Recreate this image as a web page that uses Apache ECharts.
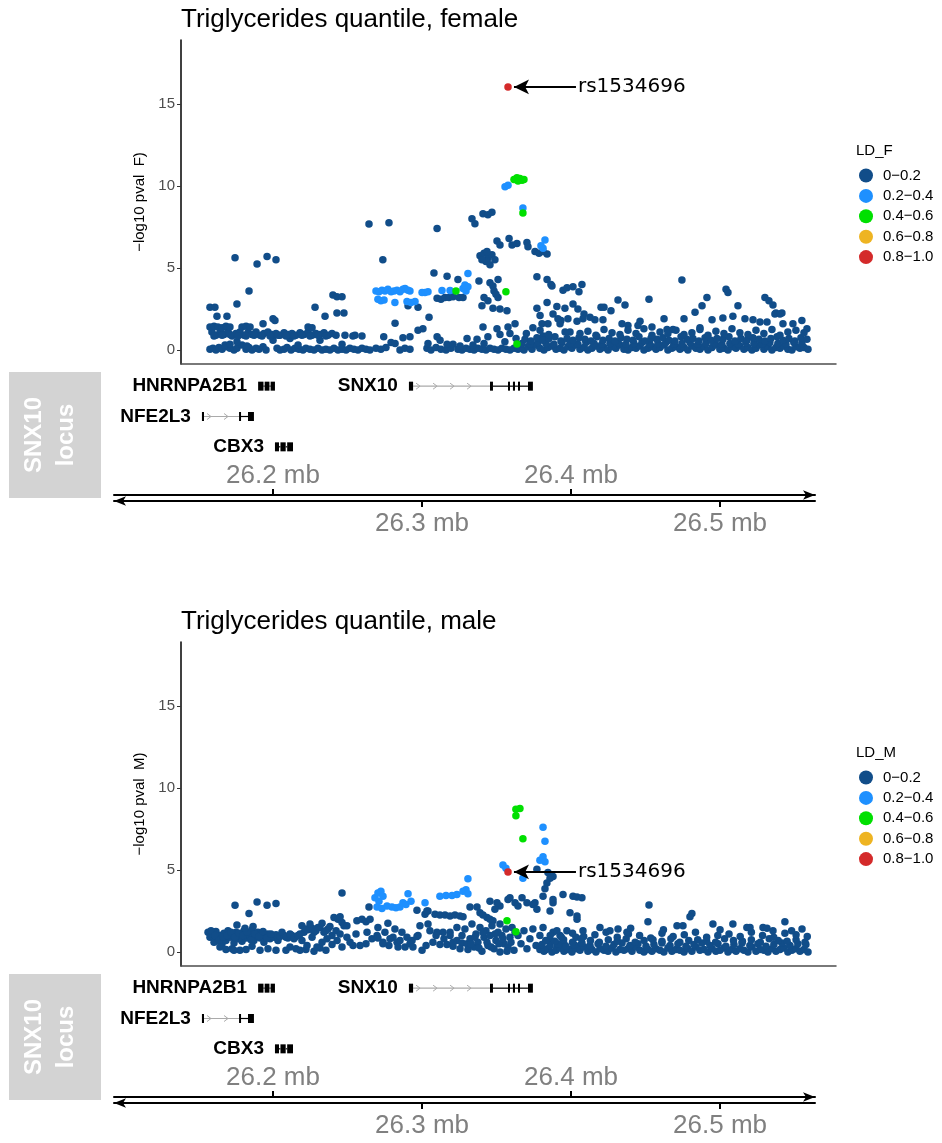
<!DOCTYPE html>
<html><head><meta charset="utf-8">
<script src="https://cdn.jsdelivr.net/npm/echarts@6/dist/echarts.min.js"></script>
<style>html,body{margin:0;padding:0;background:#fff}#c{width:942px;height:1143px}</style>
</head><body><div id="c"></div>
<script>
// ---------- data ----------
const ldClasses = ['0−0.2','0.2−0.4','0.4−0.6','0.6−0.8','0.8−1.0'];
const yTicks = [0,5,10,15];
const rulerTopTicks = [26200,26400];      // kb
const rulerBottomTicks = [26300,26500];   // kb
const leadSnp = 'rs1534696';
const leadPos = 26357.7;                  // kb
const leadFemale = 16.04;
const leadMale = 4.88;

const geneNames = ['HNRNPA2B1','SNX10','NFE2L3','CBX3'];
const geneRows = [0,0,1,2];
const geneExons = [
  [[26190.0,26193.6],[26194.4,26197.6],[26198.4,26201.3]],
  [[26291.2,26294.0],[26345.6,26347.6],[26357.7,26359.0],[26361.0,26362.4],[26364.4,26365.7],[26371.1,26374.4]],
  [[26152.3,26153.7],[26177.2,26178.5],[26183.2,26187.2]],
  [[26201.3,26204.0],[26205.0,26208.5],[26209.5,26213.4]]
];

// female, positions in kb, values -log10 p
const femaleLD0 = [
[26157.7,0.05],[26159.7,0.1],[26161.7,0.0],[26163.7,0.15],[26165.8,0.05],[26168.4,0.2],[26171.1,0.1],[26173.8,0.0],[26175.8,0.1],
[26181.9,0.05],[26183.9,0.15],[26185.9,0.0],[26188.6,0.1],[26190.6,0.05],[26193.3,0.2],[26195.3,0.0],
[26202.7,0.1],[26204.7,0.0],[26207.4,0.05],[26209.4,0.15],[26212.1,0.0],[26214.7,0.1],[26217.4,0.05],[26220.1,0.0],[26222.1,0.1],[26224.8,0.05],[26227.5,0.0],[26230.2,0.1],[26232.9,0.0],[26235.5,0.05],[26238.2,0.0],[26240.9,0.1],[26243.6,0.0],[26246.3,0.05],[26249.0,0.0],[26251.6,0.1],[26254.3,0.05],
[26257.0,0.0],[26259.7,0.1],[26262.4,0.05],[26265.0,0.0],[26269.1,0.1],
[26167.8,0.3],[26171.1,0.35],[26179.2,0.3],[26182.5,0.25],[26216.8,0.3],[26246.3,0.35],[26175.8,0.5],[26200.0,0.6],[26211.4,0.7],[26231.5,0.6],
[26159.0,1.1],[26161.7,0.9],[26164.4,1.05],[26167.1,0.95],[26169.8,1.1],[26172.5,0.85],[26175.1,1.0],[26177.8,1.1],[26180.5,0.9],[26183.2,1.05],[26185.9,0.95],[26188.6,1.1],[26191.3,0.9],[26193.9,1.0],[26196.6,1.1],[26199.3,0.95],[26202.0,1.0],[26204.7,0.9],[26207.4,1.05],[26210.1,0.95],[26212.7,1.0],[26215.4,0.9],[26218.1,1.05],[26220.8,0.95],[26223.5,1.1],[26226.2,0.9],[26228.8,1.0],[26231.5,0.95],[26234.2,1.05],[26236.9,0.9],[26239.6,1.0],[26242.3,0.9],[26255.0,0.9],[26259.7,0.85],
[26160.4,0.85],[26165.8,0.9],[26171.1,0.95],[26176.5,0.85],[26181.9,0.85],[26187.3,0.9],[26192.6,0.85],[26198.0,0.85],[26203.4,0.9],[26208.7,0.85],[26214.1,0.85],[26219.4,0.9],[26224.8,0.85],[26230.2,0.9],[26235.5,0.85],
[26157.7,1.4],[26160.4,1.45],[26163.0,1.4],[26165.8,1.35],[26168.4,1.45],[26171.1,1.4],[26179.2,1.4],[26181.9,1.45],[26184.6,1.4],[26193.3,1.6],[26223.5,1.4],[26226.2,1.35],
[26157.7,2.6],[26161.0,2.6],[26162.4,2.05],[26169.1,2.05],[26174.5,5.63],[26175.8,2.8],[26183.9,3.6],[26189.3,5.24],[26196.0,5.7],[26202.0,5.5],[26200.0,1.9],[26201.3,1.8],
[26228.2,2.6],[26234.9,2.05],[26240.2,3.35],[26242.9,3.25],[26246.3,3.25],[26242.9,2.25],[26247.6,2.25],[26248.3,0.9],[26253.6,0.85],[26264.4,7.68],[26277.8,7.76],[26273.7,5.5],[26274.3,0.8],[26279.2,0.45],[26281.9,1.63],[26290.6,2.7],[26297.3,2.6],[26287.2,0.75],[26291.9,0.8],[26297.3,1.2],[26300.6,1.3],[26304.7,2.0],[26308.0,4.7],[26310.1,7.4],
[26272.4,0.05],[26275.8,0.15],[26285.2,0.0],[26288.5,0.1],[26291.9,0.05],[26303.3,0.1],[26306.0,0.0],[26309.4,0.15],[26312.7,0.05],[26316.1,0.0],[26319.4,0.1],[26324.1,0.05],[26326.8,0.0],[26329.5,0.1],[26332.2,0.05],[26334.9,0.0],[26337.5,0.1],[26340.2,0.05],[26342.9,0.0],[26345.6,0.1],[26348.3,0.05],[26351.0,0.0],[26353.6,0.1],[26356.3,0.05],[26359.0,0.0],[26361.7,0.1],[26364.4,0.05],
[26312.1,0.6],[26316.8,0.35],[26320.8,0.35],[26325.5,0.25],[26330.2,0.7],[26336.9,0.65],[26344.2,0.8],[26352.3,0.95],[26359.0,1.0],[26310.1,0.8],[26304.0,0.4],[26281.9,0.4],[26334.2,0.3],[26341.6,0.4],[26355.6,0.5],[26363.1,0.7],
[26340.9,1.4],[26350.3,1.3],[26357.7,1.4],[26362.4,1.6],
[26333.5,8.0],[26335.5,7.7],[26340.9,8.3],[26344.2,8.25],[26346.9,8.4],
[26338.9,5.75],[26341.6,5.9],[26344.2,5.6],[26346.9,5.8],[26342.9,5.4],[26345.6,5.2],[26348.9,5.5],[26340.2,5.5],[26343.6,6.0],
[26350.3,6.65],[26352.3,6.4],[26358.4,6.8],[26360.4,6.4],[26363.7,6.5],[26370.4,6.55],[26371.1,6.3],
[26375.8,6.0],[26378.5,5.9],[26381.2,6.0],[26383.9,5.85],
[26338.2,4.2],[26345.6,4.1],[26347.6,3.9],[26351.0,4.3],[26348.3,3.6],[26351.0,3.2],[26349.6,3.4],
[26310.1,3.15],[26312.7,3.1],[26315.4,3.2],[26318.1,3.2],[26320.8,3.25],[26324.8,3.2],[26327.5,3.2],
[26316.8,4.5],[26324.1,4.3],
[26340.2,2.7],[26347.6,2.55],[26352.3,2.5],[26357.0,2.4],[26341.6,3.2],[26344.2,3.0],
[26377.1,4.47],[26383.9,4.3],[26386.5,4.0],[26387.2,3.9],
[26377.1,2.55],[26383.9,2.9],[26390.5,2.65],[26394.6,3.65],[26397.3,3.8],[26401.3,3.85],[26407.3,4.0],[26405.3,3.55],[26395.9,2.55],[26401.3,2.8],[26404.6,2.5],
[26374.4,1.35],[26379.2,1.2],[26381.2,0.85],[26392.6,1.6],[26393.2,1.8],[26399.3,1.1],
[26420.1,2.6],[26422.1,2.6],[26431.5,3.05],[26436.2,2.75],[26452.3,3.1],[26474.4,4.27],[26487.9,2.7],[26491.2,3.2],[26504.0,3.7],[26505.3,3.5],[26530.1,3.2],[26532.8,3.0],[26535.5,2.75],[26537.5,2.25],[26541.5,2.25],[26512.0,2.7],
[26412.7,2.0],[26426.8,2.4],[26446.3,1.75],[26462.4,1.9],[26475.8,1.9],[26483.2,2.3],[26379.2,2.1],[26387.9,2.2],[26408.7,2.2],
[26380.5,1.6],[26384.5,1.6],[26391.2,1.9],[26397.9,1.9],[26404.0,1.75],[26408.0,1.9],[26416.0,1.85],[26421.4,1.85],[26434.2,1.6],[26438.2,1.5],[26444.9,1.5],[26454.3,1.4],[26464.4,1.25],[26468.4,1.25],[26486.5,1.35],[26494.6,1.85],[26501.9,1.95],[26508.6,2.05],[26516.7,1.9],[26522.1,1.85],[26526.8,1.7],[26531.5,1.7],[26536.8,2.2],[26540.2,2.2],[26542.2,1.6],[26548.9,1.6],[26554.9,1.8],[26558.3,1.3],
[26365.7,0.1],[26368.4,0.0],[26371.1,0.2],[26373.8,0.05],[26376.5,0.3],[26379.1,0.1],[26381.8,0.0],[26384.5,0.15],[26387.2,0.25],[26389.9,0.05],[26392.6,0.1],[26395.2,0.0],[26397.9,0.2],[26400.6,0.1],[26403.3,0.3],[26406.0,0.05],[26408.7,0.15],[26411.3,0.0],[26414.0,0.1],[26416.7,0.25],[26419.4,0.05],[26422.1,0.15],[26424.8,0.0],[26427.5,0.2],[26430.1,0.1],[26432.8,0.3],[26435.5,0.05],[26438.2,0.0],[26440.9,0.15],[26443.6,0.1],[26446.2,0.25],[26448.9,0.0],[26451.6,0.1],[26454.3,0.2],[26457.0,0.05],[26459.7,0.15],[26462.3,0.3],[26465.0,0.0],[26467.7,0.1],[26470.4,0.2],[26473.1,0.05],[26475.8,0.15],[26478.4,0.0],[26481.1,0.25],[26483.8,0.1],[26486.5,0.05],[26489.2,0.2],[26491.9,0.0],[26494.6,0.15],[26497.2,0.3],[26499.9,0.05],[26502.6,0.1],[26505.3,0.0],[26508.0,0.2],[26510.7,0.1],[26513.3,0.25],[26516.0,0.05],[26518.7,0.15],[26521.4,0.0],[26524.1,0.1],[26526.8,0.3],[26529.4,0.05],[26532.1,0.2],[26534.8,0.0],[26537.5,0.15],[26540.2,0.1],[26542.9,0.25],[26545.5,0.05],[26548.2,0.0],[26550.9,0.2],[26553.6,0.1],[26556.3,0.15],[26559.0,0.05],
[26367.1,0.4],[26372.4,0.35],[26377.8,0.45],[26383.2,0.4],[26388.5,0.35],[26393.9,0.45],[26399.3,0.4],[26404.6,0.35],[26410.0,0.45],[26415.4,0.4],[26420.7,0.35],[26426.1,0.4],[26431.5,0.45],[26436.8,0.35],[26442.2,0.4],[26447.6,0.45],[26452.9,0.35],[26458.3,0.4],[26463.7,0.45],[26469.0,0.35],[26474.4,0.4],[26479.8,0.45],[26485.1,0.35],[26490.5,0.4],[26495.9,0.45],[26501.2,0.35],[26506.6,0.4],[26512.0,0.35],[26517.3,0.45],[26522.7,0.4],[26528.1,0.35],[26533.4,0.45],[26538.8,0.4],[26544.2,0.35],[26549.5,0.45],[26554.9,0.4],
[26369.1,0.65],[26373.1,0.55],[26377.1,0.75],[26381.2,0.6],[26385.2,0.7],[26389.2,0.8],[26393.2,0.55],[26397.3,0.7],[26401.3,0.6],[26405.3,0.75],[26409.3,0.65],[26413.4,0.55],[26417.4,0.8],[26421.4,0.6],[26425.5,0.7],[26429.5,0.55],[26433.5,0.75],[26437.5,0.65],[26441.6,0.6],[26445.6,0.8],[26449.6,0.55],[26453.6,0.7],[26457.7,0.65],[26461.7,0.75],[26465.7,0.6],[26469.7,0.55],[26473.8,0.8],[26477.8,0.65],[26481.8,0.7],[26485.8,0.55],[26489.9,0.75],[26493.9,0.6],[26497.9,0.7],[26501.9,0.65],[26506.0,0.8],[26510.0,0.55],[26514.0,0.7],[26518.0,0.6],[26522.1,0.75],[26526.1,0.65],[26530.1,0.55],[26534.1,0.7],[26538.2,0.8],[26542.2,0.6],[26546.2,0.7],[26550.2,0.55],[26554.3,0.75],[26558.3,0.65],
[26406.0,1.0],[26411.3,1.15],[26416.7,0.9],[26422.1,1.25],[26427.5,1.05],[26432.8,0.95],[26438.2,1.2],[26443.6,1.0],[26448.9,1.3],[26454.3,0.9],[26459.7,1.1],[26465.0,1.0],[26470.4,1.2],[26475.8,0.95],[26481.1,1.05],[26486.5,1.25],[26491.9,0.9],[26497.2,1.15],[26502.6,1.0],[26508.0,1.3],[26513.3,1.05],[26518.7,0.95],[26524.1,1.2],[26529.4,1.0],[26534.8,1.25],[26540.2,0.9],[26545.5,1.1],[26550.9,1.2],[26556.3,1.05],[26370.0,1.0],[26385.0,0.95],[26396.0,1.1]
];
const femaleLD1 = [
[26269.1,3.6],[26271.1,3.55],[26273.1,3.65],[26275.1,3.6],[26277.1,3.7],[26279.2,3.55],[26281.2,3.6],[26283.2,3.65],[26285.2,3.55],[26287.2,3.7],[26288.6,3.75],[26290.6,3.65],[26291.9,3.6],
[26270.4,3.1],[26272.4,3.0],[26274.5,3.05],[26281.8,2.9],[26289.9,2.95],[26292.6,2.9],[26295.3,2.95],
[26300.0,3.5],[26302.0,3.5],[26304.0,3.55],[26313.4,3.62],[26318.8,3.62],[26327.5,3.75],[26329.5,3.6],[26330.8,3.85],[26330.8,4.67],[26328.8,3.96],
[26355.7,9.95],[26357.7,10.05],[26367.7,8.66],[26382.5,6.7],[26381.2,6.2],[26379.8,6.35]
];
const femaleLD2 = [
[26361.7,10.4],[26363.7,10.5],[26365.7,10.45],[26367.1,10.35],[26368.4,10.4],[26364.4,10.3],[26367.7,8.35],[26322.8,3.6],[26356.3,3.55],[26363.7,0.37]
];
const femaleLD3 = [];
const femaleLD4 = [[leadPos, leadFemale]];

// male
const maleLD0 = [
[26156.4,1.2],[26157.7,0.9],[26159.0,1.1],[26160.4,0.6],[26161.7,1.25],[26163.1,0.8],[26164.4,1.0],[26165.8,0.5],[26167.1,1.15],[26168.4,0.7],[26169.8,1.3],[26171.1,0.9],[26172.5,1.05],[26173.8,0.55],[26175.2,1.2],[26176.5,0.8],[26177.8,1.0],[26179.2,0.65],[26180.5,1.3],[26181.9,0.85],[26183.2,1.1],[26184.6,0.95],[26185.9,1.35],[26187.2,0.7],[26188.6,1.0],[26189.9,1.2],[26191.3,0.85],[26192.6,1.05],[26193.9,0.6],[26195.3,0.95],[26196.6,1.1],[26198.0,0.8],[26199.3,1.0],[26200.7,0.9],[26202.0,1.05],[26203.3,0.7],[26204.7,0.95],[26207.4,1.0],[26210.0,0.85],[26212.7,1.0],[26215.4,0.95],[26218.1,1.1],[26220.8,1.2],[26223.5,1.35],[26226.2,1.45],[26228.8,1.3],[26231.5,1.5],[26234.2,1.2],[26236.9,1.4],[26239.6,1.0],[26242.3,1.3],[26245.0,1.1],
[26158.4,1.3],[26161.1,1.0],[26163.7,0.7],[26166.4,0.9],[26169.1,1.0],[26171.8,1.2],[26174.5,0.9],[26177.2,1.15],[26179.9,1.0],[26182.5,1.2],[26185.2,0.75],[26187.9,1.1],[26190.6,0.95],[26193.3,1.25],[26196.0,0.85],[26198.6,1.1],[26206.0,1.2],[26208.7,0.9],[26211.4,1.1],[26214.1,0.8],[26216.8,1.0],
[26164.4,0.3],[26168.4,0.15],[26172.5,0.2],[26177.8,0.1],[26181.9,0.15],[26185.9,0.35],[26191.3,0.1],[26196.6,0.2],[26202.0,0.1],[26211.4,0.3],[26218.1,0.1],[26222.1,0.15],[26227.5,0.05],[26231.5,0.25],[26235.5,0.1],[26173.8,0.1],[26208.7,0.1],[26215.4,0.2],
[26174.5,2.85],[26183.9,2.35],[26189.3,3.05],[26196.0,2.85],[26202.0,2.95],[26175.8,1.65],[26186.6,1.55],[26181.2,1.45],
[26219.4,1.6],[26222.1,1.4],[26224.8,1.7],[26227.5,1.2],[26230.2,1.5],[26232.9,1.75],[26235.5,1.3],[26238.2,1.55],[26240.9,2.1],[26243.6,2.0],[26246.3,1.8],[26245.0,2.15],[26247.6,1.6],[26246.3,3.6],[26249.6,1.6],
[26219.4,0.7],[26222.8,0.4],[26226.2,0.9],[26229.5,0.3],[26232.9,0.6],[26236.2,0.8],[26239.6,0.45],[26243.0,0.7],[26246.3,0.3],[26249.6,0.9],
[26256.3,1.9],[26259.7,2.0],[26262.4,1.85],[26265.1,2.0],[26264.4,2.75],[26270.4,1.5],[26277.1,1.75],[26263.1,1.2],[26266.4,0.8],[26269.8,1.0],[26273.8,0.6],[26277.8,0.4],[26280.5,0.9],[26253.7,0.4],[26258.4,0.4],[26262.4,0.5],[26255.7,1.1],[26251.7,0.6],[26275.1,1.2],[26281.8,1.4],[26283.9,0.3],[26270.4,0.85],[26273.8,0.5],[26278.5,0.8],[26283.2,0.6],[26286.5,1.2],[26289.9,0.9],[26293.3,0.7],[26297.3,1.0],[26298.6,1.6],[26304.0,1.7],[26302.0,2.3],[26304.0,2.5],[26308.7,2.3],[26312.0,2.25],[26315.4,2.25],[26318.8,2.2],[26322.1,2.25],[26325.5,2.2],[26310.0,1.2],[26314.1,1.2],[26318.8,1.2],[26320.8,0.35],[26323.4,0.7],[26326.8,0.55],[26330.2,0.5],[26296.6,2.55],[26303.3,2.5],[26327.5,2.15],[26332.2,2.75],[26336.9,2.75],[26338.9,2.4],[26345.6,3.1],[26352.3,2.8],[26357.7,3.2],[26343.6,2.1],[26347.6,1.9],[26352.3,1.7],[26340.9,2.25],[26345.6,2.0],[26348.9,2.6],[26350.3,3.0],[26359.0,3.3],[26362.4,3.0],[26364.4,2.8],[26367.1,3.3],[26375.8,3.0],[26377.1,5.05],[26384.5,4.85],[26387.9,4.6],[26385.9,4.5],[26383.8,4.2],[26382.5,3.85],[26387.9,3.0],[26394.6,3.5],[26401.3,3.4],[26404.0,3.35],[26407.3,3.3],[26381.2,3.4],[26387.9,3.2],[26370.4,3.0],[26374.4,2.9],[26377.1,2.6],[26385.9,2.5],[26399.3,2.4],[26404.0,2.0],[26404.0,2.2],
[26285.2,0.7],[26288.6,0.3],[26291.9,0.5],[26293.9,0.3],[26296.6,0.95],[26300.0,0.1],[26302.7,0.4],[26305.3,1.3],[26307.3,0.6],[26309.4,1.0],[26312.0,0.45],[26314.7,0.8],[26316.7,0.45],[26318.8,1.0],[26320.8,0.6],[26323.4,1.5],[26325.5,0.2],[26326.8,1.0],[26328.8,1.4],[26330.8,0.15],[26332.2,0.8],[26333.5,1.7],[26334.9,0.3],[26336.2,1.1],[26337.5,0.6],[26338.9,1.5],[26340.2,0.05],[26341.6,0.9],[26342.9,1.3],[26344.2,0.4],[26345.6,1.0],[26346.9,1.6],[26348.3,0.2],[26349.6,0.7],[26351.0,1.2],[26352.3,0.0],[26353.6,1.0],[26355.0,0.5],[26356.3,1.4],[26357.7,0.3],[26359.0,0.9],[26360.4,1.5],[26361.7,0.1],[26364.4,1.0],[26366.4,0.5],[26368.4,1.3],[26370.4,0.2],[26372.4,0.8],[26374.4,1.4],[26376.5,0.4],[26379.1,1.0],[26381.2,1.5],[26383.2,0.15],[26385.9,0.7],[26387.9,1.2],[26390.5,0.3],[26392.6,1.0],[26395.2,0.5],[26397.2,1.3],[26400.6,0.2],[26403.3,0.9],[26406.0,0.4],
[26332.8,0.5],[26335.5,0.9],[26338.2,0.25],[26340.9,1.2],[26343.6,0.6],[26346.3,0.3],[26349.0,1.1],[26351.6,0.5],[26354.3,0.8],[26357.0,0.05],[26359.7,0.6],[26362.4,1.2],
[26379.1,0.15],[26381.8,0.05],[26384.5,0.2],[26387.2,0.0],[26389.9,0.1],[26392.6,0.25],[26395.2,0.05],[26397.9,0.15],[26400.6,0.0],[26403.3,0.2],[26406.0,0.1],[26408.7,0.3],[26411.3,0.05],[26414.0,0.15],[26416.7,0.0],[26419.4,0.2],[26422.1,0.1],[26424.8,0.05],[26427.5,0.25],[26430.1,0.0],[26432.8,0.15],[26435.5,0.1],[26438.2,0.2],[26440.9,0.05],[26443.6,0.3],[26446.2,0.1],[26448.9,0.0],[26451.6,0.15],[26454.3,0.05],[26457.0,0.2],[26459.7,0.1],[26462.3,0.0],[26465.0,0.25],[26467.7,0.05],[26470.4,0.15],[26473.1,0.1],[26475.8,0.0],[26478.4,0.2],[26481.1,0.05],[26483.8,0.3],[26486.5,0.1],[26489.2,0.15],[26491.9,0.0],[26494.6,0.2],[26497.2,0.05],[26499.9,0.1],[26502.6,0.25],[26505.3,0.0],[26508.0,0.15],[26510.7,0.05],[26513.3,0.2],[26516.0,0.1],[26518.7,0.0],[26521.4,0.3],[26524.1,0.05],[26526.8,0.15],[26529.4,0.1],[26532.1,0.0],[26534.8,0.2],[26537.5,0.05],[26540.2,0.15],[26542.9,0.25],[26545.5,0.0],[26548.2,0.1],[26550.9,0.2],[26553.6,0.05],[26556.3,0.15],[26559.0,0.0],
[26380.5,0.45],[26385.9,0.4],[26391.2,0.5],[26396.6,0.35],[26402.0,0.45],[26407.3,0.55],[26412.7,0.4],[26418.1,0.5],[26423.4,0.35],[26428.8,0.45],[26434.2,0.55],[26439.5,0.4],[26444.9,0.5],[26450.3,0.35],[26455.6,0.45],[26461.0,0.55],[26466.4,0.4],[26471.7,0.5],[26477.1,0.35],[26482.5,0.45],[26487.8,0.55],[26493.2,0.4],[26498.6,0.5],[26503.9,0.35],[26509.3,0.45],[26514.7,0.55],[26520.0,0.4],[26525.4,0.5],[26530.8,0.35],[26536.1,0.45],[26541.5,0.55],[26546.9,0.4],[26552.2,0.5],[26557.6,0.45],
[26383.0,0.7],[26389.0,0.65],[26395.0,0.75],[26401.0,0.6],[26407.0,0.8],[26413.0,0.7],[26419.0,0.6],[26425.0,0.75],[26431.0,0.65],[26437.0,0.8],[26443.0,0.6],[26449.0,0.7],[26455.0,0.75],[26461.0,0.65],[26467.0,0.8],[26473.0,0.6],[26479.0,0.7],[26485.0,0.75],[26491.0,0.65],[26497.0,0.6],[26503.0,0.8],[26509.0,0.7],[26515.0,0.65],[26521.0,0.75],[26527.0,0.6],[26533.0,0.8],[26539.0,0.7],[26545.0,0.65],[26551.0,0.75],[26557.0,0.6],
[26386.0,1.0],[26393.5,0.9],[26401.0,1.15],[26408.5,0.95],[26416.0,1.05],[26423.5,1.2],[26431.0,0.9],[26438.5,1.1],[26446.0,1.0],[26453.5,0.85],[26461.0,1.15],[26468.5,0.95],[26476.0,1.05],[26483.5,1.2],[26491.0,0.9],[26498.5,1.0],[26506.0,1.1],[26513.5,0.95],[26521.0,1.2],[26528.5,1.0],[26536.0,0.9],[26543.5,1.15],[26551.0,1.05],[26558.5,0.95],
[26419.4,1.5],[26426.1,1.3],[26431.5,1.4],[26437.5,1.2],[26408.0,1.3],[26452.3,2.87],[26451.6,1.85],[26481.1,2.35],[26479.8,2.15],[26471.1,1.6],[26475.1,1.6],[26495.2,1.7],[26508.6,1.7],[26518.0,1.5],[26520.1,1.5],[26528.8,1.5],[26531.5,1.45],[26535.5,1.3],[26543.5,1.85],[26390.5,1.3],[26462.0,1.35],[26500.0,1.35],[26548.0,1.3],[26555.0,1.4],[26440.0,1.45]
];
const maleLD1 = [
[26268.4,3.3],[26270.4,3.6],[26272.4,3.7],[26273.8,3.4],[26271.1,3.1],[26269.8,2.75],[26273.1,2.65],[26276.5,2.8],[26279.8,2.75],[26282.5,2.7],[26285.2,2.75],[26287.2,3.0],[26289.2,2.9],[26290.6,3.55],[26292.6,3.1],
[26302.0,3.0],[26312.0,3.4],[26316.1,3.45],[26320.1,3.45],[26323.4,3.5],[26327.5,3.7],[26329.5,3.8],[26330.8,3.55],[26330.8,4.46],
[26354.3,5.3],[26356.3,5.1],[26367.7,4.5],[26379.1,5.6],[26381.2,5.8],[26382.5,5.5],[26382.5,6.75],[26381.2,7.6]
];
const maleLD2 = [
[26363.0,8.7],[26365.7,8.75],[26363.0,8.3],[26367.7,6.9],[26363.0,1.23],[26357.0,1.9]
];
const maleLD3 = [];
const maleLD4 = [[leadPos, leadMale]];

// annotation anchor positions (kb): text start, arrow tip
const annoTextPos = 26403.3;
const annoTipPos = 26361.7;

// ---------- chart ----------
const XMIN = 26138.25, XMAX = 26577.8;
const RMIN = 26093.3, RMAX = 26563.7;
const YMIN = -0.854, YMAX = 18.9;
const colors = ['#114D89','#1E90FF','#00E000','#EEB422','#D42A2A'];
const FONT = '"Liberation Sans", Arial, Helvetica, sans-serif';

const panels = [
  {off:0, title:'Triglycerides quantile, female', ylab:'−log10 pval  F)', leg:'LD_F', data:[femaleLD0,femaleLD1,femaleLD2,femaleLD3,femaleLD4], lead:leadFemale},
  {off:602, title:'Triglycerides quantile, male', ylab:'−log10 pval  M)', leg:'LD_M', data:[maleLD0,maleLD1,maleLD2,maleLD3,maleLD4], lead:leadMale}
];

function renderGene(params, api){
  const gi = api.value(3);
  const row = api.value(1);
  const exons = geneExons[gi];
  const yc = api.coord([exons[0][0], row])[1];
  const ch = [];
  for (let i=0;i<exons.length-1;i++){
    const x1 = api.coord([exons[i][1], row])[0];
    const x2 = api.coord([exons[i+1][0], row])[0];
    const long = (x2-x1) > 20;
    const col = long ? '#aaaaaa' : '#000';
    ch.push({type:'line', shape:{x1:x1,y1:yc,x2:x2,y2:yc}, style:{stroke:col, lineWidth:1.2}});
    if (long){
      for (let ax = x1+7; ax < x2-5; ax += 17){
        ch.push({type:'polyline', shape:{points:[[ax-4,yc-3],[ax,yc],[ax-4,yc+3]]}, style:{stroke:'#aaaaaa', fill:null, lineWidth:1}});
      }
    }
  }
  exons.forEach(function(e){
    const a = api.coord([e[0],row])[0], b = api.coord([e[1],row])[0];
    ch.push({type:'rect', shape:{x:a, y:yc-4.5, width:Math.max(b-a,2), height:9}, style:{fill:'#000'}});
  });
  const xs = api.coord([exons[0][0],row])[0];
  ch.push({type:'text', style:{text:geneNames[gi], x:xs-11, y:yc, align:'right', verticalAlign:'middle', fontSize:19, fontWeight:'bold', fontFamily:FONT, fill:'#000'}});
  return {type:'group', children:ch};
}
const geneData = geneNames.map(function(n,i){ const ex=geneExons[i]; return [ex[0][0], geneRows[i], ex[ex.length-1][1], i]; });

const option = {animation:false, textStyle:{fontFamily:FONT}, grid:[], xAxis:[], yAxis:[], series:[], title:[], legend:[], graphic:[]};

panels.forEach(function(p, pi){
  const g0 = option.grid.length;
  option.grid.push({left:181, top:40+p.off, width:655, height:324});
  option.grid.push({left:181, top:371+p.off, width:655, height:91});
  option.grid.push({left:114, top:495+p.off, width:701, height:6});
  const x0 = option.xAxis.length, y0 = option.yAxis.length;
  option.xAxis.push({gridIndex:g0, type:'value', min:XMIN, max:XMAX, axisLine:{show:true,onZero:false,lineStyle:{color:'#4d4d4d',width:1.5}}, axisTick:{show:false}, axisLabel:{show:false}, splitLine:{show:false}});
  option.xAxis.push({gridIndex:g0+1, type:'value', min:XMIN, max:XMAX, show:false});
  option.xAxis.push({gridIndex:g0+2, type:'value', position:'top', min:RMIN, max:RMAX,
    axisLine:{show:true, onZero:false, symbol:['none','arrow'], symbolSize:[7,12], symbolOffset:[0,0], lineStyle:{color:'#000', width:2}},
    axisTick:{show:true, inside:false, length:6, lineStyle:{color:'#000', width:2}, customValues:rulerTopTicks},
    axisLabel:{show:true, margin:6, fontSize:26, color:'#808080', fontFamily:FONT, customValues:rulerTopTicks, formatter:function(v){return (v/1000).toFixed(1)+' mb';}},
    splitLine:{show:false}});
  option.xAxis.push({gridIndex:g0+2, type:'value', position:'bottom', min:RMIN, max:RMAX,
    axisLine:{show:true, onZero:false, symbol:['arrow','none'], symbolSize:[7,12], symbolOffset:[0,0], lineStyle:{color:'#000', width:2}},
    axisTick:{show:true, inside:false, length:6, lineStyle:{color:'#000', width:2}, customValues:rulerBottomTicks},
    axisLabel:{show:true, margin:10, fontSize:26, color:'#808080', fontFamily:FONT, customValues:rulerBottomTicks, formatter:function(v){return (v/1000).toFixed(1)+' mb';}},
    splitLine:{show:false}});
  option.yAxis.push({gridIndex:g0, type:'value', min:YMIN, max:YMAX,
    axisLine:{show:true, onZero:false, lineStyle:{color:'#000', width:1.5}},
    axisTick:{show:true, length:4, lineStyle:{color:'#333'}, customValues:yTicks},
    axisLabel:{show:true, margin:6, fontSize:15, color:'#4d4d4d', customValues:yTicks},
    splitLine:{show:false},
    name:p.ylab, nameLocation:'middle', nameGap:25, nameTextStyle:{fontSize:15, color:'#000', fontFamily:FONT}});
  option.yAxis.push({gridIndex:g0+1, type:'category', data:['0','1','2'], inverse:true, show:false});
  option.yAxis.push({gridIndex:g0+2, type:'value', min:0, max:1, show:false});

  p.data.forEach(function(d, k){
    const s = {type:'scatter', name:ldClasses[k], xAxisIndex:x0, yAxisIndex:y0, data:d, symbol:'circle', symbolSize:7.5,
      itemStyle:{color:colors[k], opacity:1}, silent:true, z:2+k};
    if (k===4){
      s.markLine = {silent:true, animation:false, symbol:['none','arrow'], symbolSize:[11,15],
        lineStyle:{color:'#000', width:2, type:'solid'},
        label:{show:true, position:'start', formatter:leadSnp, fontSize:20, fontFamily:'"DejaVu Sans", sans-serif', color:'#000', distance:2},
        data:[[{coord:[annoTextPos, p.lead]},{coord:[annoTipPos, p.lead]}]]};
    }
    option.series.push(s);
  });
  option.series.push({type:'custom', xAxisIndex:x0+1, yAxisIndex:y0+1, data:geneData, encode:{x:[0,2], y:1}, renderItem:renderGene, silent:true, clip:false});

  option.title.push({text:p.title, left:181, top:7+p.off, padding:0, textStyle:{fontSize:26, fontWeight:'normal', color:'#000', fontFamily:FONT}});
  option.title.push({text:p.leg, left:856, top:143+p.off, padding:0, textStyle:{fontSize:15, fontWeight:'normal', color:'#000', fontFamily:FONT}});
  option.legend.push({data:ldClasses, orient:'vertical', left:859, top:168+p.off, padding:0, itemWidth:14, itemHeight:14, itemGap:5.4, icon:'circle',
    textStyle:{fontSize:15, color:'#000', fontFamily:FONT, padding:[0,0,0,5]}, selectedMode:false});
  option.graphic.push({type:'rect', left:9, top:372+p.off, shape:{width:92, height:126}, style:{fill:'#d3d3d3'}, silent:true});
  option.graphic.push({type:'text', x:50, y:435+p.off, rotation:Math.PI/2, style:{text:'SNX10\nlocus', align:'center', verticalAlign:'middle', fontSize:24, fontWeight:'bold', fontFamily:FONT, fill:'#fff', lineHeight:32}, silent:true});
});

const chart = echarts.init(document.getElementById('c'), null, {renderer:'canvas'});
chart.setOption(option);
</script></body></html>
